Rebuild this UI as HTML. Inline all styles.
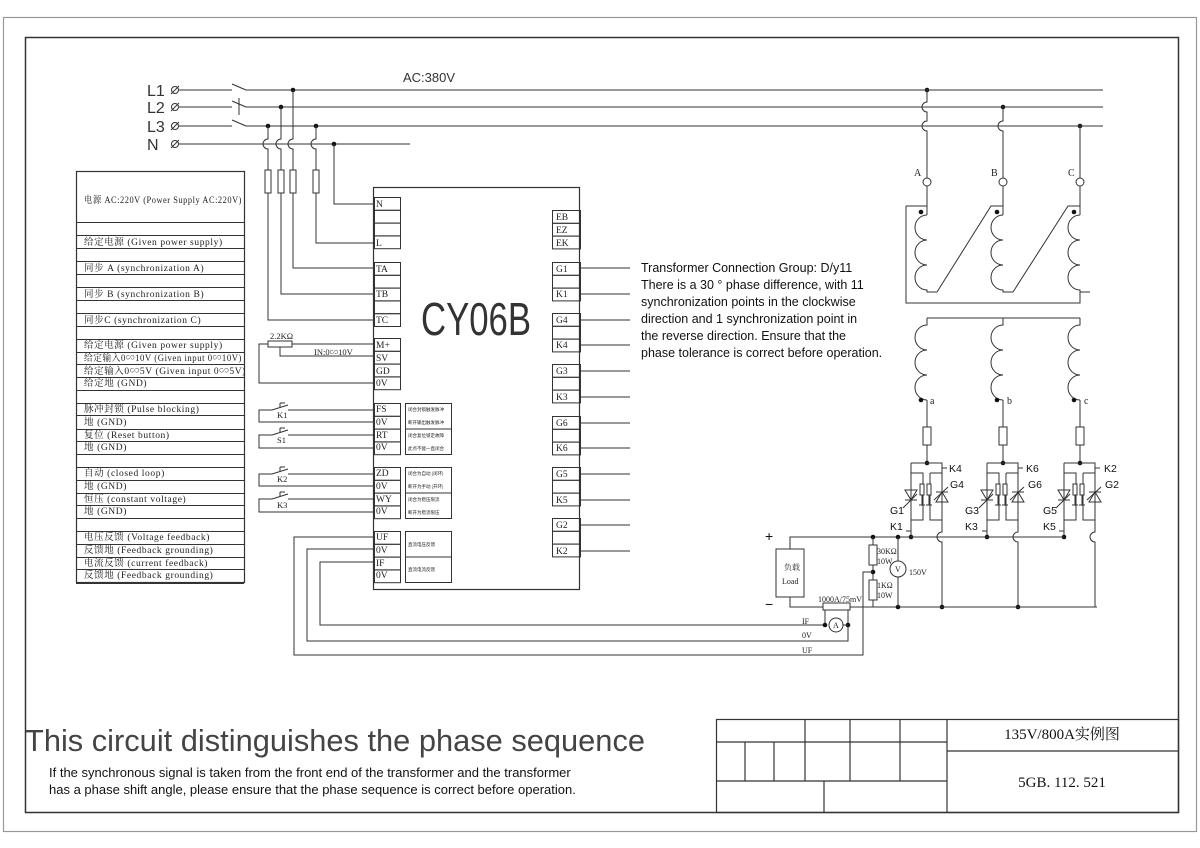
<!DOCTYPE html>
<html><head><meta charset="utf-8"><style>
html,body{margin:0;padding:0;background:#fff;width:1200px;height:848px;overflow:hidden}
svg{display:block}
.t{font-family:"Liberation Serif","Noto Serif CJK SC",serif;font-size:9.5px;fill:#222;letter-spacing:0.6px}
.p{font-family:"Liberation Serif","Noto Serif CJK SC",serif;font-size:9.5px;fill:#222}
.s{font-family:"Liberation Sans","Noto Sans CJK SC",sans-serif;fill:#111}
.tiny{font-family:"Noto Sans CJK SC",sans-serif;font-size:4.5px;fill:#222}
</style></head><body>
<svg id="sv" width="1200" height="848" viewBox="0 0 1200 848" xmlns="http://www.w3.org/2000/svg" stroke="#333" fill="none" stroke-width="1">
<rect x="3.5" y="17.5" width="1193" height="814" stroke="#999" stroke-width="1.2"/>
<rect x="25.5" y="37.5" width="1153" height="775" stroke-width="1.5"/>
<g id="rest"></g>
<g stroke-width="1.2">
<rect x="716.5" y="719.5" width="462" height="93"/>
<line x1="716" y1="742" x2="947" y2="742"/>
<line x1="716" y1="781" x2="947" y2="781"/>
<line x1="947" y1="719" x2="947" y2="812"/>
<line x1="947" y1="751" x2="1178" y2="751"/>
<line x1="745" y1="742" x2="745" y2="781"/>
<line x1="774" y1="742" x2="774" y2="781"/>
<line x1="805" y1="719" x2="805" y2="781"/>
<line x1="850" y1="719" x2="850" y2="781"/>
<line x1="900" y1="719" x2="900" y2="781"/>
<line x1="824" y1="781" x2="824" y2="812"/>
</g>
<text x="1062" y="739" class="s" stroke="none" style="font-family:'Liberation Serif','Noto Serif CJK SC',serif;font-size:15px" text-anchor="middle">135V/800A实例图</text>
<text x="1062" y="787" class="s" stroke="none" style="font-family:'Liberation Serif',serif;font-size:15px" text-anchor="middle">5GB. 112. 521</text>
<text x="25" y="751" class="s" stroke="none" style="font-size:31px;fill:#444" textLength="620" lengthAdjust="spacingAndGlyphs">This circuit distinguishes the phase sequence</text>
<text x="49" y="777" class="s" stroke="none" style="font-size:13px">If the synchronous signal is taken from the front end of the transformer and the transformer</text>
<text x="49" y="794" class="s" stroke="none" style="font-size:13px">has a phase shift angle, please ensure that the phase sequence is correct before operation.</text>
<g class="s" stroke="none" style="font-size:12.5px">
<text x="641" y="272">Transformer Connection Group: D/y11</text>
<text x="641" y="289">There is a 30 ° phase difference, with 11</text>
<text x="641" y="306">synchronization points in the clockwise</text>
<text x="641" y="323">direction and 1 synchronization point in</text>
<text x="641" y="340">the reverse direction. Ensure that the</text>
<text x="641" y="357">phase tolerance is correct before operation.</text>
</g>
<g class="s" stroke="none" style="font-size:16px;fill:#333">
<text x="147" y="96">L1</text><text x="147" y="113">L2</text><text x="147" y="132">L3</text><text x="147" y="150">N</text>
<text x="403" y="82" style="font-size:13px">AC:380V</text>
</g>
<g id="mains"></g>
<g id="tbl"></g>
<g class="t" stroke="none">
<text x="84" y="203" textLength="158" lengthAdjust="spacingAndGlyphs">电源 AC:220V (Power Supply AC:220V)</text>
<text x="84" y="245">给定电源 (Given power supply)</text>
<text x="84" y="271">同步 A (synchronization A)</text>
<text x="84" y="297">同步 B (synchronization B)</text>
<text x="84" y="323">同步C (synchronization C)</text>
<text x="84" y="348">给定电源 (Given power supply)</text>
<text x="84" y="361" textLength="158" lengthAdjust="spacingAndGlyphs">给定输入0∽10V (Given input 0∽10V)</text>
<text x="84" y="374">给定输入0∽5V (Given input 0∽5V)</text>
<text x="84" y="386">给定地 (GND)</text>
<text x="84" y="412">脉冲封锁 (Pulse blocking)</text>
<text x="84" y="425">地 (GND)</text>
<text x="84" y="438">复位 (Reset button)</text>
<text x="84" y="450">地 (GND)</text>
<text x="84" y="476">自动 (closed loop)</text>
<text x="84" y="489">地 (GND)</text>
<text x="84" y="502">恒压 (constant voltage)</text>
<text x="84" y="514">地 (GND)</text>
<text x="84" y="540">电压反馈 (Voltage feedback)</text>
<text x="84" y="553">反馈地 (Feedback grounding)</text>
<text x="84" y="566">电流反馈 (current feedback)</text>
<text x="84" y="578">反馈地 (Feedback grounding)</text>
</g>
<rect x="373.5" y="187.5" width="206" height="402" stroke-width="1.2"/>
<text x="476" y="335" text-anchor="middle" class="s" stroke="none" style="font-size:46px;fill:#333" textLength="110" lengthAdjust="spacingAndGlyphs">CY06B</text>
<g id="pins"></g>
<g class="p" stroke="none">
<text x="376" y="207">N</text><text x="376" y="246">L</text>
<text x="376" y="272">TA</text><text x="376" y="297">TB</text><text x="376" y="323">TC</text>
<text x="376" y="348">M+</text><text x="376" y="361">SV</text><text x="376" y="374">GD</text><text x="376" y="386">0V</text>
<text x="376" y="412">FS</text><text x="376" y="425">0V</text><text x="376" y="438">RT</text><text x="376" y="450">0V</text>
<text x="376" y="476">ZD</text><text x="376" y="489">0V</text><text x="376" y="502">WY</text><text x="376" y="514">0V</text>
<text x="376" y="540">UF</text><text x="376" y="553">0V</text><text x="376" y="566">IF</text><text x="376" y="578">0V</text>
<text x="556" y="220">EB</text><text x="556" y="233">EZ</text><text x="556" y="246">EK</text>
<text x="556" y="272">G1</text><text x="556" y="297">K1</text>
<text x="556" y="323">G4</text><text x="556" y="348">K4</text>
<text x="556" y="374">G3</text><text x="556" y="400">K3</text>
<text x="556" y="426">G6</text><text x="556" y="451">K6</text>
<text x="556" y="477">G5</text><text x="556" y="503">K5</text>
<text x="556" y="528">G2</text><text x="556" y="554">K2</text>
</g>
<g class="tiny" stroke="none">
<text x="408" y="411">闭合封锁触发脉冲</text><text x="408" y="424">断开输出触发脉冲</text>
<text x="408" y="437">闭合复位锁定故障</text><text x="408" y="450">此点不能一直闭合</text>
<text x="408" y="475">闭合为自动 (闭环)</text><text x="408" y="488">断开为手动 (开环)</text>
<text x="408" y="501">闭合为稳压限流</text><text x="408" y="514">断开为稳流限压</text>
<text x="408" y="546">直流电压反馈</text><text x="408" y="571">直流电流反馈</text>
</g>
<g class="p" stroke="none" style="font-size:8.5px">
<text x="270" y="339">2.2KΩ</text><text x="314" y="355">IN:0∽10V</text>
<text x="277" y="418">K1</text><text x="277" y="443">S1</text><text x="277" y="482">K2</text><text x="277" y="508">K3</text>
</g>
<g class="p" stroke="none" style="font-size:10px">
<text x="914" y="176">A</text><text x="991" y="176">B</text><text x="1068" y="176">C</text>
<text x="930" y="404">a</text><text x="1007" y="404">b</text><text x="1084" y="404">c</text>
</g>
<g class="s" stroke="none" style="font-size:10.5px">
<text x="949" y="472">K4</text><text x="1026" y="472">K6</text><text x="1104" y="472">K2</text>
<text x="950" y="488">G4</text><text x="1028" y="488">G6</text><text x="1105" y="488">G2</text>
<text x="890" y="514">G1</text><text x="965" y="514">G3</text><text x="1043" y="514">G5</text>
<text x="890" y="530">K1</text><text x="965" y="530">K3</text><text x="1043" y="530">K5</text>
<text x="765" y="541" style="font-size:14px">+</text><text x="765" y="609" style="font-size:14px">−</text>
</g>
<g class="p" stroke="none" style="font-size:8px">
<text x="784" y="570">负载</text><text x="782" y="584">Load</text>
<text x="877" y="554">30KΩ</text><text x="877" y="564">10W</text>
<text x="877" y="588">1KΩ</text><text x="877" y="598">10W</text>
<text x="909" y="575">150V</text>
<text x="818" y="602">1000A/75mV</text>
<text x="802" y="624">IF</text><text x="802" y="638">0V</text><text x="802" y="653">UF</text>
<text x="895" y="572">V</text><text x="833" y="628">A</text>
</g>
</svg>
<script>
const S='http://www.w3.org/2000/svg';
function el(g,t,a){const e=document.createElementNS(S,t);for(const k in a)e.setAttribute(k,a[k]);document.getElementById(g).appendChild(e);return e;}
function L(g,x1,y1,x2,y2){el(g,'line',{x1,y1,x2,y2});}
function P(g,d,f){el(g,'path',{d,fill:f||'none'});}
function D(g,x,y){el(g,'circle',{cx:x,cy:y,r:2.3,fill:'#111',stroke:'none'});}
function R(g,x,y,w,h){el(g,'rect',{x,y,width:w,height:h,fill:'#fff'});}
const ty=[171,222,235,248,261,274,287,300,313,326,339,352,364,377,390,403,415,429,441,454,467,480,493,505,518,531,544,557,569,583];
el('tbl','rect',{x:76.5,y:171.5,width:168,height:411,'stroke-width':1.2});
ty.forEach(y=>L('tbl',76,y+.5,244,y+.5));
function col(x,w,ys){ys.forEach(([a,b])=>{el('pins','rect',{x:x+.5,y:a+.5,width:w,height:b-a});});}
function grid(x,w,y0,n){const r=[];for(let i=0;i<n;i++)r.push([y0+i*12.8,y0+(i+1)*12.8]);col(x,w,r);}
grid(374,26,197,4);grid(374,26,262,5);grid(374,26,338,4);grid(374,26,403,4);grid(374,26,467,4);grid(374,26,531,4);
grid(552,28,210,3);[262,313,364,416,467,518].forEach(y=>grid(552,28,y,3));
el('pins','rect',{x:405.5,y:403.5,width:46,height:51});L('pins',405,429,451,429);
el('pins','rect',{x:405.5,y:467.5,width:46,height:51});L('pins',405,493,451,493);
el('pins','rect',{x:405.5,y:531.5,width:46,height:51});L('pins',405,557,451,557);
[268,294,320,345,371,397,423,448,474,500,525,551].forEach(y=>L('pins',580,y,630,y));
const m='mains';
[[90,1103],[107,1103],[126,1103],[144,410]].forEach(([y,x2],i)=>{
 el(m,'circle',{cx:175,cy:y,r:3.5});L(m,171,y+4,179,y-4);
 if(i<3){L(m,179,y,232,y);L(m,232,y-6,246,y);L(m,246,y,x2,y);}else L(m,179,y,x2,y);
});
L(m,239,98,239,115);
const vs=[[268,126,320],[281,107,294],[293,90,268],[316,126,243]];
vs.forEach(([x,y,py])=>{D(m,x,y);P(m,`M${x} ${y}V139 a5 5 0 0 0 0 10 V${py}H374`);R(m,x-3,170,6,23);});
D(m,334,144);P(m,'M334 144V204H374');
P('rest','M268 344H259V383H374');R('rest',268,341,24,6);P('rest','M292 344H374');P('rest','M280 347V356H374');
[[410,422],[435,448],[474,486],[499,512]].forEach(([a,b])=>{P('rest',`M374 ${a}H288 M272 ${a}H259V${b}H374`);P('rest',`M272 ${a} L288 ${a-5} M280 ${a-3}V${a-7} M280 ${a-7}h5`);});
P('rest','M374 537H294V655H863V615');P('rest','M374 549H307V641H848V610');P('rest','M374 562H320V625H825');
const X=[927,1003,1080],Y=[90,107,126];
X.forEach((x,i)=>{D('rest',x,Y[i]);let d=`M${x} ${Y[i]}`;for(let k=i+1;k<3;k++){d+=`V${Y[k]-5} a5 5 0 0 0 0 10`;}d+='V178';P('rest',d);
 el('rest','circle',{cx:x,cy:182,r:4,fill:'#fff'});L('rest',x,186,x,215);D('rest',x-6,212);
 let c=`M${x} 215`;for(let k=0;k<3;k++)c+=` a12 12.5 0 0 0 0 25`;c+=` V292 H${x+10}`;P('rest',c);
 let s=`M${x} 318 V325`;for(let k=0;k<3;k++)s+=` a12 12.5 0 0 0 0 25`;P('rest',s);D('rest',x-6,400);
 P('rest',`M${x} 400V463`);R('rest',x-4,427,8,18);
 const l=x-16,r=x+15;D('rest',x,463);P('rest',`M${l} 463H${r}V520 M${l} 463V537 M${r} 468h5 M${l} 531h-5`);
 P('rest',`M${l} 473H${x-4}V520H${l} M${x+3} 473H${r} M${x+3} 473V520H${r}`);
 P('rest',`M${l-6} 490h12l-6 10z M${l-6} 500h12`);L('rest',l-8,508,l+6,494);
 P('rest',`M${r-6} 502h12l-6 -10z M${r-6} 492h12`);L('rest',r-8,500,r+6,487);
 R('rest',x-7,484,4,11);R('rest',x,484,4,11);L('rest',x-5,495,x-5,505);L('rest',x+2,495,x+2,505);
 L('rest',x-8,505,x-2,505);L('rest',x-1,505,x+5,505);
 P('rest',`M${r} 520V532 a5 5 0 0 0 0 10 V607`);if(i<2)D('rest',r,607);
 D('rest',l,537);
});
P('rest','M906 206H927 M906 206V303H1080 V292');
P('rest','M937 292L991 206H1003 M1013 292L1068 206H1080');
P('rest','M927 318H1080');
P('rest','M790 549V537H1064');P('rest','M790 597V607H823 M850 607H1097');
R('rest',776,549,28,48);
D('rest',873,537);D('rest',898,537);D('rest',898,607);
P('rest','M873 537V607');R('rest',869,545,8,20);R('rest',869,580,8,20);D('rest',873,572);P('rest','M873 572H863V615');
P('rest','M898 537V561 M898 577V607');el('rest','circle',{cx:898,cy:569,r:8,fill:'#fff'});
R('rest',823,603,27,7);P('rest','M825 610V625 M848 610V641');D('rest',825,625);D('rest',848,625);
el('rest','circle',{cx:836,cy:625,r:7,fill:'#fff'});P('rest','M843 625H848');
</script>
</body></html>
